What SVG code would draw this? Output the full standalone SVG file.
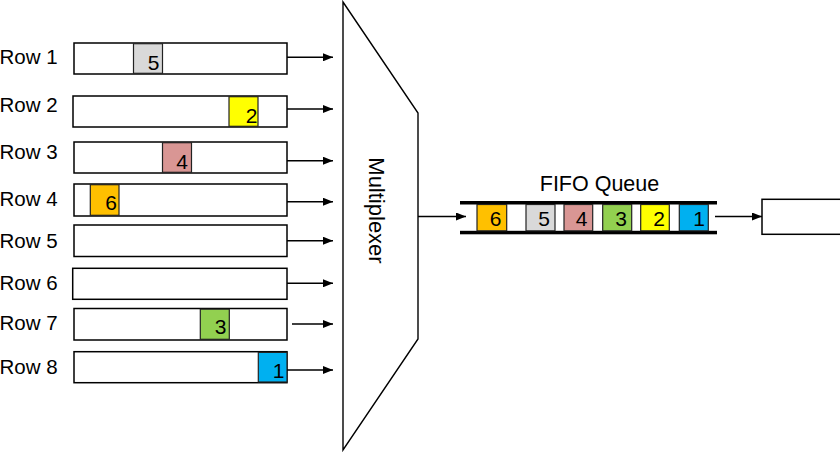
<svg xmlns="http://www.w3.org/2000/svg" width="840" height="452" viewBox="0 0 840 452">
<style>
text{font-family:"Liberation Sans",Arial,sans-serif;font-size:20.5px;fill:#000}
.lbl{text-anchor:start}
.num{text-anchor:end;font-size:21px}
.row{fill:#fff;stroke:#000;stroke-width:1.5}
.cell{stroke:#222;stroke-width:1.2}
.ln{stroke:#000;stroke-width:1.4;fill:none}
.bar{fill:#000}
</style>
<defs>
<marker id="ah" markerWidth="10" markerHeight="8" refX="10" refY="4" orient="auto" markerUnits="userSpaceOnUse">
<path d="M0,0 L10,4 L0,8 Z" fill="#000"/>
</marker>
</defs>

<g id="row1">
<text class="lbl" x="-0.5" y="63.5">Row 1</text>
<rect class="row" x="74" y="43" width="213" height="31"/>
<rect class="cell" x="133.5" y="43.7" width="29" height="29.6" fill="#d9d9d9"/>
<text class="num" x="159.5" y="69.5">5</text>
</g>
<g id="row2">
<text class="lbl" x="-0.5" y="111.5">Row 2</text>
<rect class="row" x="73" y="96" width="214" height="31"/>
<rect class="cell" x="229" y="96.7" width="29" height="29.6" fill="#ffff00"/>
<text class="num" x="257.5" y="122.5">2</text>
</g>
<g id="row3">
<text class="lbl" x="-0.5" y="158.5">Row 3</text>
<rect class="row" x="74" y="142" width="213" height="31"/>
<rect class="cell" x="162.5" y="142.7" width="29" height="29.6" fill="#d99694"/>
<text class="num" x="188" y="168.5">4</text>
</g>
<g id="row4">
<text class="lbl" x="-0.5" y="206">Row 4</text>
<rect class="row" x="74" y="184" width="213" height="32"/>
<rect class="cell" x="90.3" y="184.7" width="28.7" height="30.6" fill="#ffc000"/>
<text class="num" x="117" y="209.5">6</text>
</g>
<g id="row5">
<text class="lbl" x="-0.5" y="248">Row 5</text>
<rect class="row" x="74" y="225" width="213" height="31.5"/>
</g>
<g id="row6">
<text class="lbl" x="-0.5" y="290">Row 6</text>
<rect class="row" x="72.7" y="268.3" width="214.3" height="31"/>
</g>
<g id="row7">
<text class="lbl" x="-0.5" y="330">Row 7</text>
<rect class="row" x="74" y="308.5" width="213" height="31.5"/>
<rect class="cell" x="200.3" y="309.2" width="29" height="30.1" fill="#92d050"/>
<text class="num" x="226.5" y="333.5">3</text>
</g>
<g id="row8">
<text class="lbl" x="-0.5" y="373.5">Row 8</text>
<rect class="row" x="74" y="351.7" width="213" height="31"/>
<rect class="cell" x="258.3" y="352.4" width="28.7" height="29.6" fill="#00b0f0"/>
<text class="num" x="284.5" y="377.5">1</text>
</g>

<g id="multiplexer">
<path d="M343,2 L418,113 L418,339 L343,450 Z" fill="#fff" stroke="#000" stroke-width="1.4"/>
<text transform="translate(368.5,210.5) rotate(90)" text-anchor="middle" style="font-size:22px">Multiplexer</text>
</g>

<g id="fifo">
<text x="599.5" y="190.5" text-anchor="middle" style="font-size:21.5px">FIFO Queue</text>
<rect class="bar" x="460" y="201" width="257" height="3.5"/>
<rect class="bar" x="460" y="230.8" width="257" height="3.5"/>
<rect class="cell" x="477" y="204.5" width="29.7" height="26.3" fill="#ffc000"/>
<text class="num" x="501.5" y="225.5">6</text>
<rect class="cell" x="526" y="204.5" width="29" height="26.3" fill="#d9d9d9"/>
<text class="num" x="550" y="225.5">5</text>
<rect class="cell" x="564" y="204.5" width="28.7" height="26.3" fill="#d99694"/>
<text class="num" x="587.5" y="225.5">4</text>
<rect class="cell" x="602.7" y="204.5" width="29" height="26.3" fill="#92d050"/>
<text class="num" x="627" y="225.5">3</text>
<rect class="cell" x="640.7" y="204.5" width="28.6" height="26.3" fill="#ffff00"/>
<text class="num" x="665" y="225.5">2</text>
<rect class="cell" x="679.3" y="204.5" width="29" height="26.3" fill="#00b0f0"/>
<text class="num" x="705" y="225.5">1</text>
</g>

<g id="output">
<rect x="762" y="199.3" width="90" height="35" fill="#fff" stroke="#000" stroke-width="1.5"/>
</g>

<g id="connectors">
<line class="ln" x1="287" y1="57.3" x2="333" y2="57.3" marker-end="url(#ah)"/>
<line class="ln" x1="287" y1="109" x2="333" y2="109" marker-end="url(#ah)"/>
<line class="ln" x1="287" y1="160.7" x2="333" y2="160.7" marker-end="url(#ah)"/>
<line class="ln" x1="287" y1="201.7" x2="333" y2="201.7" marker-end="url(#ah)"/>
<line class="ln" x1="287" y1="240.7" x2="333" y2="240.7" marker-end="url(#ah)"/>
<line class="ln" x1="287" y1="283.3" x2="333" y2="283.3" marker-end="url(#ah)"/>
<line class="ln" x1="292" y1="324" x2="333" y2="324" marker-end="url(#ah)"/>
<line class="ln" x1="287" y1="370" x2="333" y2="370" marker-end="url(#ah)"/>
<line class="ln" x1="418" y1="216.5" x2="466" y2="216.5" marker-end="url(#ah)"/>
<line class="ln" x1="715" y1="216.5" x2="762" y2="216.5" marker-end="url(#ah)"/>
</g>
</svg>
